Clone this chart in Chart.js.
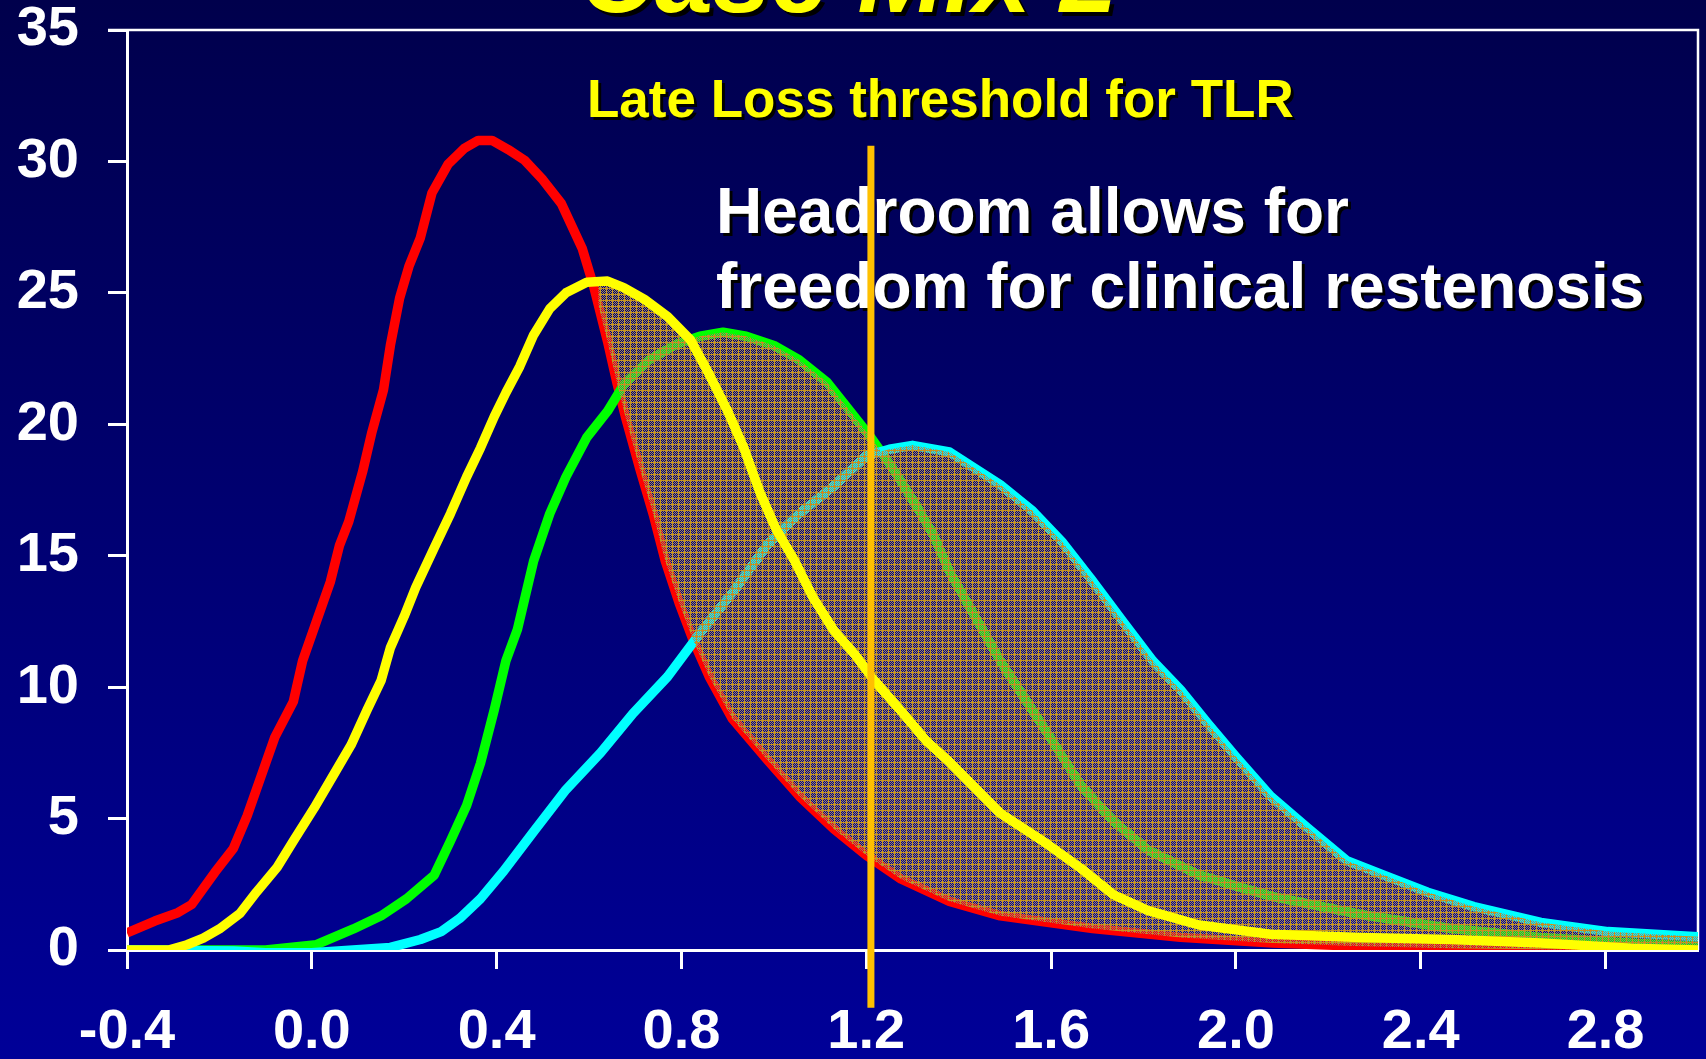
<!DOCTYPE html>
<html><head><meta charset="utf-8">
<script src="https://cdn.jsdelivr.net/npm/chart.js@4"></script>
<style>
html,body{margin:0;padding:0;width:1706px;height:1059px;overflow:hidden;background:linear-gradient(to bottom,#00004c 0%,#000098 100%);}
canvas{display:block}
</style></head><body>
<canvas id="c" width="1706" height="1059"></canvas>
<script>
// ---- data ----
const redX = [-0.4,-0.34,-0.29,-0.26,-0.21,-0.17,-0.14,-0.11,-0.08,-0.04,-0.02,0.01,0.04,0.06,0.08,0.11,0.13,0.155,0.17,0.19,0.21,0.235,0.26,0.295,0.33,0.36,0.39,0.425,0.46,0.5,0.54,0.585,0.61,0.64,0.66,0.68,0.71,0.74,0.765,0.795,0.825,0.86,0.91,0.985,1.055,1.13,1.2,1.275,1.38,1.49,1.69,1.88,2.08,2.27,2.47,2.65,3.0];
const redY = [0.65,1.1,1.42,1.73,2.95,3.86,5.1,6.6,8.1,9.45,11.0,12.5,14.0,15.4,16.3,18.2,19.7,21.3,23.0,24.8,26.0,27.1,28.8,29.9,30.5,30.8,30.8,30.45,30.05,29.3,28.4,26.7,25.25,23.15,21.6,20.2,18.3,16.5,14.8,13.2,11.8,10.4,8.8,7.25,5.85,4.6,3.6,2.7,1.85,1.3,0.82,0.48,0.27,0.14,0.07,0.03,0.0];

const yellowX = [-0.4,-0.31,-0.27,-0.235,-0.2,-0.155,-0.12,-0.075,-0.04,0.005,0.045,0.085,0.12,0.15,0.17,0.2,0.225,0.265,0.3,0.335,0.365,0.395,0.42,0.45,0.48,0.515,0.55,0.595,0.64,0.675,0.72,0.77,0.82,0.86,0.9,0.935,0.97,1.005,1.045,1.085,1.13,1.175,1.215,1.275,1.33,1.38,1.49,1.59,1.665,1.735,1.81,1.92,2.075,2.27,2.465,2.66,2.855,3.0];
const yellowY = [0,0,0.2,0.45,0.8,1.4,2.2,3.15,4.15,5.4,6.6,7.8,9.15,10.25,11.5,12.7,13.8,15.3,16.6,18.0,19.1,20.3,21.2,22.2,23.4,24.4,25.0,25.4,25.45,25.2,24.75,24.1,23.2,21.9,20.5,19.1,17.4,16.0,14.8,13.4,12.15,11.25,10.3,9.1,7.95,7.15,5.2,4.05,3.1,2.1,1.5,0.95,0.6,0.48,0.4,0.27,0.07,0.0];

const greenX = [-0.4,-0.1,0.01,0.09,0.15,0.205,0.265,0.3,0.335,0.365,0.395,0.42,0.445,0.48,0.515,0.55,0.595,0.64,0.675,0.73,0.79,0.84,0.89,0.94,1.0,1.055,1.115,1.165,1.21,1.26,1.31,1.345,1.38,1.49,1.54,1.59,1.665,1.735,1.81,1.92,2.075,2.27,2.465,2.66,2.855,3.0];
const greenY = [0,0,0.2,0.8,1.3,1.95,2.85,4.15,5.5,7.1,9.15,11.0,12.2,14.8,16.6,18.0,19.5,20.5,21.5,22.45,23.05,23.35,23.5,23.35,23.0,22.45,21.6,20.5,19.5,18.25,16.85,15.8,14.4,11.0,9.65,8.3,6.25,4.9,3.8,2.85,2.05,1.35,0.82,0.48,0.27,0.14];

const cyanX = [-0.4,-0.17,-0.1,0.0,0.17,0.235,0.28,0.32,0.365,0.415,0.48,0.55,0.625,0.695,0.77,0.84,0.915,0.985,1.055,1.13,1.2,1.25,1.3,1.38,1.49,1.56,1.625,1.685,1.755,1.82,1.88,1.94,2.0,2.075,2.155,2.24,2.32,2.415,2.515,2.66,2.805,3.0];
const cyanY = [0,-0.04,-0.1,-0.1,0.1,0.4,0.7,1.2,1.95,3.0,4.5,6.1,7.5,9.0,10.4,12.05,13.7,15.4,16.6,17.65,18.8,19.05,19.2,18.95,17.7,16.7,15.5,14.15,12.5,11.0,9.9,8.6,7.35,5.85,4.65,3.4,2.85,2.2,1.65,1.05,0.7,0.5];

const thresholdX = [1.21, 1.21];
const thresholdY = [30.6, -2.2];
const headroomStartX = 0.62;

const xTickValues = [-0.4, 0.0, 0.4, 0.8, 1.2, 1.6, 2.0, 2.4, 2.8];
const yTickValues = [0, 5, 10, 15, 20, 25, 30, 35];

const titleText = 'Case Mix 2';
const thresholdLabel = 'Late Loss threshold for TLR';
const noteLines = ['Headroom allows for', 'freedom for clinical restenosis'];

// ---- helpers ----
const FONT = '"Liberation Sans", Arial, Helvetica, sans-serif';
function pts(xs, ys) { return xs.map((x, i) => ({ x: x, y: ys[i] })); }

function makePattern(ctx) {
  const s = 6;
  const tile = document.createElement('canvas');
  tile.width = s; tile.height = s;
  const t = tile.getContext('2d');
  for (let y = 0; y < s; y++) {
    for (let x = 0; x < s; x++) {
      if (x === 0 || y === 0) { t.fillStyle = '#c8941c'; t.fillRect(x, y, 1, 1); }
      else if ((x + y) % 2 === 0) { t.fillStyle = '#9c8268'; t.fillRect(x, y, 1, 1); }
    }
  }
  return ctx.createPattern(tile, 'repeat');
}

function shadowText(ctx, text, x, y, color, off) {
  ctx.fillStyle = '#000000';
  ctx.fillText(text, x + off, y + off);
  ctx.fillStyle = color;
  ctx.fillText(text, x, y);
}

const headroomPlugin = {
  id: 'headroom',
  beforeDatasetDraw(chart, args) {
    if (args.index !== 1) return; // draw just before the yellow curve
    const ctx = chart.ctx, area = chart.chartArea, xs = chart.scales.x, ys = chart.scales.y;
    const red = chart.getDatasetMeta(0).data;
    const tops = [1, 2, 3].map(i => chart.getDatasetMeta(i).data);
    const base = ys.getPixelForValue(0);
    ctx.save();
    const sx = xs.getPixelForValue(headroomStartX);
    ctx.beginPath();
    ctx.rect(sx, area.top, area.right - sx, area.bottom - area.top + 10);
    ctx.clip();
    ctx.beginPath();
    red.forEach((p, i) => i ? ctx.lineTo(p.x, p.y) : ctx.moveTo(p.x, p.y));
    ctx.lineTo(red[red.length - 1].x, area.top);
    ctx.lineTo(red[0].x, area.top);
    ctx.closePath();
    ctx.clip();
    ctx.beginPath();
    tops.forEach(d => {
      ctx.moveTo(d[0].x, base);
      d.forEach(p => ctx.lineTo(p.x, p.y));
      ctx.lineTo(d[d.length - 1].x, base);
      ctx.closePath();
    });
    ctx.fillStyle = makePattern(ctx);
    ctx.fill('nonzero');
    ctx.restore();
  }
};

const framePlugin = {
  id: 'frame',
  beforeDatasetsDraw(chart) {
    const ctx = chart.ctx, a = chart.chartArea;
    ctx.save();
    ctx.strokeStyle = '#ffffff';
    ctx.lineWidth = 2.5;
    ctx.beginPath();
    ctx.moveTo(a.left - 19, a.top);
    ctx.lineTo(a.right, a.top);
    ctx.lineTo(a.right, a.bottom);
    ctx.stroke();
    // texts
    ctx.textBaseline = 'alphabetic';
    ctx.textAlign = 'left';
    ctx.font = 'italic bold 104px ' + FONT;
    shadowText(ctx, titleText, 580, 12, '#ffff00', 4);
    ctx.font = 'bold 53px ' + FONT;
    shadowText(ctx, thresholdLabel, 587, 117, '#ffff00', 3);
    ctx.font = 'bold 64px ' + FONT;
    shadowText(ctx, noteLines[0], 716, 233, '#ffffff', 3);
    shadowText(ctx, noteLines[1], 716, 308, '#ffffff', 3);
    ctx.restore();
  }
};

function lineDs(label, xs, ys, color, order) {
  return {
    label: label, data: pts(xs, ys), borderColor: color, borderWidth: 9.5,
    pointRadius: 0, tension: 0, fill: false, order: order,
    borderJoinStyle: 'round', borderCapStyle: 'butt'
  };
}

const tickFont = { family: FONT, size: 56, weight: 'bold' };

new Chart(document.getElementById('c'), {
  type: 'line',
  data: {
    datasets: [
      lineDs('red', redX, redY, '#ff0000', 4),
      lineDs('yellow', yellowX, yellowY, '#ffff00', 1),
      lineDs('green', greenX, greenY, '#00ff00', 3),
      lineDs('cyan', cyanX, cyanY, '#00ffff', 2),
      { label: 'threshold', data: pts(thresholdX, thresholdY), borderColor: '#ffc000',
        borderWidth: 7, pointRadius: 0, fill: false, order: 0, clip: false, borderCapStyle: 'butt' }
    ]
  },
  options: {
    responsive: false,
    animation: false,
    events: [],
    layout: { padding: { top: 30, right: 8, left: 0, bottom: 0 } },
    plugins: { legend: { display: false }, tooltip: { enabled: false }, title: { display: false } },
    scales: {
      x: {
        type: 'linear', min: -0.4, max: 3.0,
        afterBuildTicks: s => { s.ticks = xTickValues.map(v => ({ value: v })); },
        afterFit: s => { s.height = 109; s.paddingLeft = 0; s.paddingRight = 0; },
        ticks: { color: '#ffffff', font: tickFont, padding: 30, maxRotation: 0, autoSkip: false,
                 callback: v => v.toFixed(1) },
        grid: { display: true, drawOnChartArea: false, drawTicks: true, tickLength: 19,
                tickColor: '#ffffff', tickWidth: 3, color: '#ffffff' },
        border: { display: true, color: '#ffffff', width: 3 }
      },
      y: {
        type: 'linear', min: 0, max: 35,
        afterBuildTicks: s => { s.ticks = yTickValues.map(v => ({ value: v })); },
        afterFit: s => { s.width = 127; s.paddingTop = 0; s.paddingBottom = 0; },
        ticks: { color: '#ffffff', font: tickFont, padding: 29, autoSkip: false },
        grid: { display: true, drawOnChartArea: false, drawTicks: true, tickLength: 19,
                tickColor: '#ffffff', tickWidth: 3, color: '#ffffff' },
        border: { display: true, color: '#ffffff', width: 3 }
      }
    }
  },
  plugins: [framePlugin, headroomPlugin]
});
</script>
</body></html>
